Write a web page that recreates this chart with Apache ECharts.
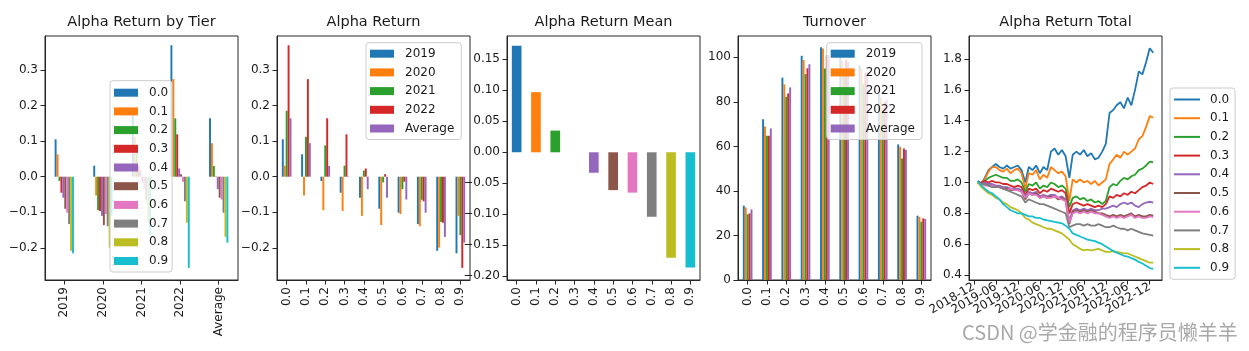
<!DOCTYPE html>
<html><head><meta charset="utf-8">
<script src="https://cdn.jsdelivr.net/npm/echarts@6/dist/echarts.min.js"></script>
<style>html,body{margin:0;padding:0;background:#fff}#c{width:1249px;height:351px}</style>
</head><body><div id="c"></div><script>
// ---------- data ----------
const tiers = ['0.0','0.1','0.2','0.3','0.4','0.5','0.6','0.7','0.8','0.9'];
const years = ['2019','2020','2021','2022','Average'];
const panelTitles = ['Alpha Return by Tier','Alpha Return','Alpha Return Mean','Turnover','Alpha Return Total'];

// alpha return per tier (index = tier)
const alpha2019 = [0.105, 0.063, -0.012, -0.045, -0.059, -0.090, -0.101, -0.133, -0.208, -0.215];
const alpha2020 = [0.031, -0.053, -0.094, -0.096, -0.110, -0.136, -0.105, -0.139, -0.199, -0.110];
const alpha2021 = [0.185, 0.112, 0.088, 0.031, 0.017, -0.016, -0.035, -0.065, -0.127, -0.164];
const alpha2022 = [0.369, 0.274, 0.164, 0.119, 0.023, 0.007, -0.014, -0.069, -0.129, -0.256];
const alphaAvg  = [0.164, 0.094, 0.030, 0.001, -0.035, -0.059, -0.064, -0.101, -0.169, -0.185];
const alphaMean = [0.172, 0.097, 0.035, 0.000, -0.033, -0.061, -0.065, -0.104, -0.170, -0.186];

// turnover per tier
const turn2019 = [33.4, 72.2, 90.9, 100.7, 104.5, 100.5, 96.5, 84.0, 60.9, 28.9];
const turn2020 = [32.6, 68.9, 87.9, 98.8, 104.0, 98.5, 95.0, 82.0, 59.9, 28.4];
const turn2021 = [29.5, 64.8, 82.3, 92.5, 95.0, 93.0, 88.0, 77.0, 54.6, 26.2];
const turn2022 = [29.9, 64.8, 83.8, 95.1, 101.0, 99.0, 93.0, 80.0, 59.1, 27.7];
const turnAvg  = [31.7, 68.1, 86.5, 96.9, 101.0, 98.0, 93.5, 81.0, 58.4, 27.4];

// cumulative alpha per tier
const dates = ['2019-01-02','2019-02-01','2019-03-01','2019-04-01','2019-05-01','2019-06-01','2019-07-01','2019-08-01','2019-09-01','2019-10-01','2019-11-01','2019-12-01',
  '2020-01-01','2020-02-01','2020-03-01','2020-04-01','2020-05-01','2020-06-01','2020-07-01','2020-08-01','2020-09-01','2020-10-01','2020-11-01','2020-12-01',
  '2021-01-01','2021-02-01','2021-03-01','2021-04-01','2021-05-01','2021-06-01','2021-07-01','2021-08-01','2021-09-01','2021-10-01','2021-11-01','2021-12-01',
  '2022-01-01','2022-02-01','2022-03-01','2022-04-01','2022-05-01','2022-06-01','2022-07-01','2022-08-01','2022-09-01','2022-10-01','2022-11-01','2022-12-01','2022-12-30'];
const cum00 = [1.01,0.99,1.03,1.08,1.10,1.12,1.10,1.09,1.11,1.09, 1.10,1.11,1.08,1.00,1.10,1.08,1.11,1.06,1.10,1.08, 1.20,1.22,1.18,1.21,1.17,1.03,1.18,1.20,1.18,1.21, 1.17,1.19,1.15,1.16,1.20,1.25,1.45,1.47,1.50,1.52, 1.48,1.55,1.50,1.60,1.72,1.70,1.78,1.87,1.84];
const cum01 = [1.00,0.99,1.02,1.07,1.10,1.10,1.08,1.07,1.09,1.06, 1.08,1.09,1.06,0.96,1.06,1.05,1.08,1.02,1.05,1.03, 1.10,1.08,1.06,1.07,1.04,0.88,1.02,1.00,1.02,1.00, 1.01,0.99,1.01,0.98,1.00,1.02,1.12,1.15,1.18,1.16, 1.20,1.18,1.20,1.22,1.28,1.30,1.36,1.43,1.42];
const cum02 = [1.00,0.99,1.01,1.03,1.04,1.05,1.04,1.03,1.03,1.01, 1.01,1.02,1.00,0.94,0.99,0.98,1.00,0.96,0.98,0.97, 1.00,0.99,0.97,0.98,0.96,0.84,0.90,0.91,0.89,0.90, 0.88,0.89,0.87,0.88,0.86,0.88,0.97,0.99,0.98,1.01, 1.03,1.02,1.04,1.05,1.08,1.09,1.11,1.135,1.13];
const cum03 = [1.00,1.00,1.01,1.00,1.01,1.00,1.00,0.99,0.99,0.98, 0.97,0.98,0.97,0.92,0.96,0.95,0.96,0.93,0.95,0.94, 0.96,0.95,0.94,0.95,0.93,0.80,0.86,0.87,0.86,0.85, 0.86,0.85,0.84,0.85,0.84,0.86,0.91,0.90,0.92,0.91, 0.93,0.92,0.94,0.93,0.95,0.97,0.98,1.00,0.99];
const cum04 = [1.00,0.99,1.00,0.99,0.99,0.98,0.98,0.97,0.97,0.96, 0.96,0.96,0.95,0.91,0.94,0.93,0.94,0.91,0.92,0.91, 0.92,0.92,0.90,0.91,0.89,0.75,0.82,0.83,0.82,0.83, 0.82,0.83,0.82,0.82,0.83,0.83,0.84,0.85,0.84,0.86, 0.87,0.86,0.87,0.85,0.84,0.86,0.87,0.875,0.87];
const cum05 = [1.00,0.99,0.99,0.98,0.98,0.97,0.97,0.96,0.96,0.95, 0.95,0.95,0.94,0.89,0.93,0.92,0.93,0.90,0.91,0.90, 0.91,0.91,0.89,0.90,0.88,0.73,0.81,0.82,0.81,0.82, 0.81,0.82,0.81,0.80,0.80,0.79,0.78,0.79,0.78,0.79, 0.78,0.79,0.80,0.78,0.79,0.78,0.78,0.79,0.785];
const cum06 = [1.00,0.99,0.98,0.98,0.98,0.97,0.97,0.96,0.95,0.96, 0.95,0.95,0.94,0.90,0.93,0.92,0.92,0.90,0.91,0.90, 0.90,0.91,0.90,0.89,0.88,0.74,0.80,0.81,0.80,0.81, 0.80,0.81,0.80,0.80,0.79,0.78,0.77,0.78,0.77,0.78, 0.77,0.78,0.79,0.77,0.78,0.77,0.77,0.78,0.775];
const cum07 = [1.00,0.99,0.99,0.98,0.97,0.97,0.97,0.96,0.95,0.94, 0.93,0.92,0.91,0.87,0.89,0.88,0.87,0.86,0.86,0.85, 0.84,0.83,0.82,0.81,0.80,0.71,0.72,0.73,0.73,0.72, 0.73,0.72,0.72,0.73,0.72,0.71,0.71,0.72,0.71,0.70, 0.70,0.69,0.70,0.69,0.68,0.67,0.665,0.66,0.655];
const cum08 = [1.00,0.97,0.95,0.93,0.92,0.90,0.89,0.87,0.86,0.84, 0.83,0.82,0.80,0.77,0.76,0.74,0.73,0.72,0.71,0.70, 0.70,0.69,0.68,0.67,0.65,0.63,0.60,0.585,0.57,0.56, 0.565,0.56,0.565,0.57,0.56,0.55,0.55,0.555,0.55,0.545, 0.54,0.54,0.53,0.52,0.51,0.50,0.49,0.48,0.48];
const cum09 = [1.01,0.98,0.96,0.94,0.93,0.91,0.89,0.86,0.84,0.82, 0.81,0.80,0.80,0.79,0.78,0.78,0.77,0.77,0.76,0.755, 0.75,0.745,0.74,0.735,0.72,0.70,0.67,0.66,0.65,0.64, 0.63,0.625,0.62,0.61,0.60,0.585,0.57,0.555,0.545,0.535, 0.525,0.52,0.51,0.50,0.485,0.475,0.46,0.445,0.44];
const dateTicks = ['2018-12-01','2019-06-01','2019-12-01','2020-06-01','2020-12-01','2021-06-01','2021-12-01','2022-06-01','2022-12-01'];

// ---------- chart ----------
const colors = ['#1f77b4','#ff7f0e','#2ca02c','#d62728','#9467bd','#8c564b','#e377c2','#7f7f7f','#bcbd22','#17becf'];
const FONT = '"DejaVu Sans", sans-serif';
const TXT = '#1a1a1a';
const LINE = '#262626';
const byYear = [alpha2019, alpha2020, alpha2021, alpha2022, alphaAvg];
const turnByYear = [turn2019, turn2020, turn2021, turn2022, turnAvg];
const cums = [cum00, cum01, cum02, cum03, cum04, cum05, cum06, cum07, cum08, cum09];
const lefts = [45, 277, 507, 738, 969];
const W = 193, TOP = 36, H = 244;

const minus = s => s.replace('-', '\u2212');
const fmt = d => v => minus(Number(v).toFixed(d));

function catAxis(gi, data) {
  return { type: 'category', gridIndex: gi, data,
    axisLine: { show: true, onZero: false, lineStyle: { color: LINE, width: 1 } },
    axisTick: { show: true, alignWithLabel: true, length: 4.5, lineStyle: { color: LINE } },
    axisLabel: { rotate: 90, interval: 0, margin: 7, fontSize: 12, color: TXT, fontFamily: FONT, hideOverlap: false },
    splitLine: { show: false } };
}
function valAxis(gi, min, max, ticks, f) {
  return { type: 'value', gridIndex: gi, min, max,
    axisLine: { show: true, onZero: false, lineStyle: { color: LINE, width: 1 } },
    axisTick: { show: true, length: 4.5, customValues: ticks, lineStyle: { color: LINE } },
    axisLabel: { customValues: ticks, formatter: f, margin: 7, fontSize: 12, color: TXT, fontFamily: FONT,
      hideOverlap: false, showMinLabel: true, showMaxLabel: true },
    splitLine: { show: false } };
}
function legend(names, left, top, extra) {
  return Object.assign({ data: names, orient: 'vertical', left, top, icon: 'rect',
    itemWidth: 24, itemHeight: 8, itemGap: 6.7, selectedMode: false,
    backgroundColor: 'rgba(255,255,255,0.8)', borderColor: '#cccccc', borderWidth: 1, borderRadius: 3,
    padding: [5, 7, 5, 4],
    textStyle: { fontSize: 12, lineHeight: 12, color: TXT, fontFamily: FONT, padding: [0, 0, 0, 6] } }, extra || {});
}

const ts = dates.map(d => Date.parse(d));
const span = ts[ts.length - 1] - ts[0];
const xMin = ts[0] - 0.05 * span, xMax = ts[ts.length - 1] + 0.05 * span;
const tickTs = dateTicks.map(d => Date.parse(d));
const dateFmt = v => { const d = new Date(v); return d.getUTCFullYear() + '-' + String(d.getUTCMonth() + 1).padStart(2, '0'); };
// date labels split over three label-only axes so none is dropped as overlapping
function dateLabelAxis(k, withLine) {
  const vals = tickTs.filter((_, i) => i % 3 === k);
  return { type: 'value', gridIndex: 4, position: 'bottom', min: xMin, max: xMax,
    axisLine: { show: withLine, onZero: false, lineStyle: { color: LINE } },
    axisTick: { show: withLine, length: 4.5, customValues: tickTs, lineStyle: { color: LINE } },
    axisLabel: { customValues: vals, formatter: dateFmt, rotate: 30, margin: 6, fontSize: 12, color: TXT, fontFamily: FONT,
      hideOverlap: false, showMinLabel: true, showMaxLabel: true },
    splitLine: { show: false } };
}

const a1 = [-0.2, -0.1, 0, 0.1, 0.2, 0.3];
const series = [];
tiers.forEach((t, i) => series.push({ type: 'bar', name: t, xAxisIndex: 0, yAxisIndex: 0,
  data: byYear.map(arr => arr[i]), itemStyle: { color: colors[i] }, barGap: '0%', barCategoryGap: '50%' }));
years.forEach((y, j) => series.push({ type: 'bar', name: y, xAxisIndex: 1, yAxisIndex: 1,
  data: byYear[j], itemStyle: { color: colors[j] }, barGap: '0%', barCategoryGap: '50%' }));
series.push({ type: 'bar', name: 'Alpha Return Mean', xAxisIndex: 2, yAxisIndex: 2,
  data: alphaMean.map((v, i) => ({ value: v, itemStyle: { color: colors[i] } })), barCategoryGap: '50%' });
years.forEach((y, j) => series.push({ type: 'bar', name: y, xAxisIndex: 3, yAxisIndex: 3,
  data: turnByYear[j], itemStyle: { color: colors[j] }, barGap: '0%', barCategoryGap: '50%' }));
tiers.forEach((t, i) => series.push({ type: 'line', name: t, xAxisIndex: 4, yAxisIndex: 4,
  data: ts.map((x, k) => [x, cums[i][k]]), showSymbol: false, symbol: 'none',
  lineStyle: { color: colors[i], width: 1.8 }, itemStyle: { color: colors[i] } }));

const option = {
  animation: false,
  backgroundColor: '#ffffff',
  title: panelTitles.map((t, i) => ({ text: t, left: lefts[i] + W / 2, top: 15, textAlign: 'center', padding: 0,
    textStyle: { fontSize: 14.5, fontWeight: 'normal', color: TXT, fontFamily: FONT } })),
  grid: lefts.map(l => ({ left: l, top: TOP, width: W, height: H, show: true, borderColor: LINE, borderWidth: 1, backgroundColor: 'transparent' })),
  xAxis: [
    catAxis(0, years), catAxis(1, tiers), catAxis(2, tiers), catAxis(3, tiers),
    dateLabelAxis(0, true), dateLabelAxis(1, false), dateLabelAxis(2, false)
  ],
  yAxis: [
    valAxis(0, -0.29, 0.395, a1, fmt(1)),
    valAxis(1, -0.29, 0.395, a1, fmt(1)),
    valAxis(2, -0.206, 0.1876, [-0.2, -0.15, -0.1, -0.05, 0, 0.05, 0.1, 0.15], fmt(2)),
    valAxis(3, 0, 109.6, [0, 20, 40, 60, 80, 100], fmt(0)),
    valAxis(4, 0.368, 1.949, [0.4, 0.6, 0.8, 1.0, 1.2, 1.4, 1.6, 1.8], fmt(1))
  ],
  legend: [
    legend(tiers, 110, 80.7, { padding: [6, 4, 5, 4] }),
    legend(years, 366, 42.7),
    legend(years, 826.7, 42.7),
    legend(tiers, 1170, 88, { itemWidth: 26, itemHeight: 2, itemGap: 6.7, padding: [5.5, 6, 5.5, 4],
      textStyle: { fontSize: 12, lineHeight: 12, color: TXT, fontFamily: FONT, padding: [0, 0, 0, 5] } })
  ],
  graphic: [{ type: 'text', left: 962, top: 322, z: 100,
    style: { text: 'CSDN @学金融的程序员懒羊羊', fontSize: 20, fill: '#a9a9a9', fontFamily: '"Noto Sans CJK SC", sans-serif' } }],
  series
};
const chart = echarts.init(document.getElementById('c'), null, { renderer: 'canvas' });
chart.setOption(option);
</script></body></html>
